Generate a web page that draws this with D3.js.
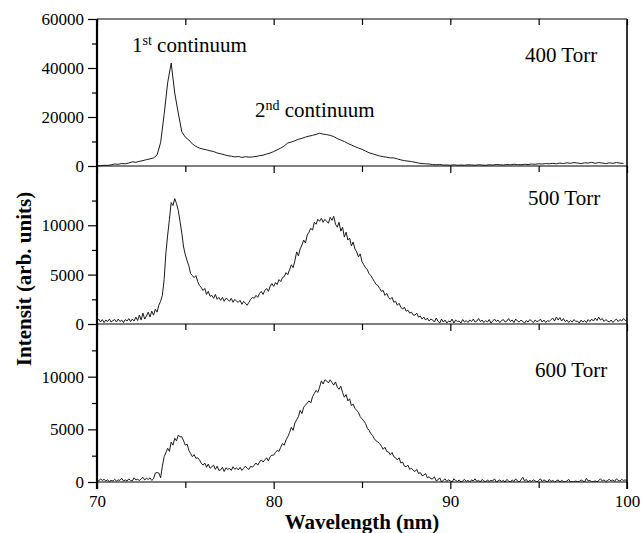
<!DOCTYPE html>
<html lang="en">
<head>
<script type="text/javascript" src="https://d3js.org/d3.v7.min.js"></script>
<style>
    body { margin: 0; background: #fff; }
    svg { font-family: "Liberation Serif", "Times New Roman", serif; }
</style>
</head>
<body>
<div id="container"></div>
<script>
    // spectra (intensity, arb. units)
    // 400 Torr sampled every 0.2 nm, 500 / 600 Torr every 0.1 nm, from 70 to 100 nm
    const torr400 = [
        0, 100, 300, 250, 450,
        800, 700, 1000, 900, 1200,
        1700, 1500, 1900, 2200, 2600,
        2900, 3300, 4500, 9500, 21000,
        34000, 42000, 29800, 21600, 13900,
        11800, 10600, 9000, 8000, 7300,
        6900, 6600, 6200, 5900, 5300,
        5000, 4600, 4200, 4000, 3700,
        3900, 3500, 3800, 3600, 3700,
        3900, 4200, 4400, 4900, 5300,
        5900, 6600, 7300, 8200, 9400,
        9800, 10300, 10900, 11300, 11800,
        12200, 12500, 12900, 13400, 13000,
        12800, 12500, 12000, 11200, 10600,
        10000, 9200, 8600, 7900, 7300,
        6800, 6100, 5400, 5000, 4500,
        4100, 3800, 3600, 3300, 3300,
        2900, 2500, 2200, 2000, 1800,
        1500, 1200, 1000, 900, 800,
        600, 500, 600, 400, 400,
        300, 500, 300, 400, 300,
        500, 400, 300, 500, 400,
        300, 500, 400, 600, 500,
        400, 600, 500, 700, 600,
        500, 700, 600, 800, 700,
        900, 800, 1000, 900, 1100,
        900, 1200, 1000, 1300, 1100,
        1400, 1200, 1000, 1300, 1200,
        1500, 1100, 1400, 1200, 1000,
        1300, 1100, 1400, 1200, 1000
    ];

    const torr500 = [
        300, 500, 200, 450, 150, 400, 250, 500, 200, 350,
        450, 200, 500, 250, 400, 150, 450, 300, 550, 250,
        500, 300, 700, 350, 900, 400, 1100, 500, 800, 1200,
        700, 1300, 900, 1500, 1200, 1900, 2300, 2900, 4500, 7200,
        9000, 10600, 12300, 12000, 12700, 12200, 11500, 10400, 9200, 7800,
        7000, 6400, 5900, 5100, 4900, 4700, 4900, 4300, 3900, 3700,
        3400, 3600, 3000, 3300, 2800, 2900, 2600, 3000, 2500, 2700,
        2400, 2700, 2300, 2600, 2500, 2300, 2600, 2200, 2500, 2300,
        2200, 2400, 2000, 2300, 2100, 1900, 2200, 2500, 2700, 2600,
        2900, 2700, 3100, 3300, 3000, 3400, 3600, 3300, 3800, 4100,
        3800, 4200, 4000, 4500, 4300, 4700, 4800, 5200, 5000, 5500,
        6000, 5700, 6400, 7300, 6900, 7600, 8000, 8500, 8200, 9000,
        9300, 9700, 9500, 10300, 10100, 10600, 10400, 10700, 10300, 10600,
        10400, 10200, 10800, 10500, 10900, 10100, 9800, 10300, 9400, 9800,
        8800, 9300, 8500, 8700, 7900, 8300, 7600, 7300, 6800, 7100,
        6300, 6000, 5700, 5500, 5100, 4900, 4600, 4300, 4000, 3900,
        3600, 3300, 3400, 2900, 3100, 2700, 2500, 2700, 2200, 2300,
        1900, 2100, 1700, 1500, 1700, 1300, 1400, 1100, 1200, 900,
        900, 1100, 700, 800, 500, 700, 400, 600, 300, 500,
        400, 200, 600, 300, 100, 500, 200, 400, 100, 300,
        200, 500, 100, 400, 250, 300, 100, 450, 200, 350,
        150, 400, 250, 500, 200, 300, 550, 250, 400, 150,
        350, 200, 450, 100, 300, 500, 250, 400, 150, 350,
        450, 200, 300, 550, 250, 400, 150, 500, 300, 200,
        400, 250, 100, 350, 200, 450, 300, 150, 400, 250,
        300, 500, 200, 400, 150, 350, 250, 450, 600, 300,
        700, 400, 650, 300, 550, 250, 400, 150, 350, 200,
        450, 250, 300, 100, 400, 200, 350, 150, 450, 250,
        500, 300, 600, 350, 700, 400, 550, 250, 450, 300,
        200, 400, 150, 350, 500, 250, 450, 300, 550, 350,
        400
    ];

    const torr600 = [
        200, 100, 300, 150, 250, 100, 200, 50, 150, 100,
        250, 100, 200, 150, 350, 100, 200, 100, 300, 150,
        100, 400, 200, 250, 150, 300, 450, 200, 350, 250,
        400, 150, 300, 850, 900, 850, 400, 1500, 2400, 2800,
        3200, 2900, 3800, 3500, 4150, 3900, 4450, 4300, 4300, 3900,
        3500, 3600, 3000, 2700, 2400, 2600, 2250, 2300, 2100, 1800,
        1600, 1800, 1400, 1700, 1300, 1450, 1600, 1200, 1500, 1100,
        1150, 1400, 1000, 1350, 1200, 1300, 1100, 1450, 1200, 1350,
        1150, 1400, 1100, 1300, 1500, 1300, 1200, 1500, 1400, 1600,
        1800, 1600, 1900, 2100, 1900, 2100, 2300, 2000, 2400, 2550,
        2550, 2800, 3000, 2900, 3300, 3650, 3500, 4000, 4300, 4700,
        5200, 4900, 5600, 5900, 6200, 6800, 6500, 7100, 7300, 7500,
        7700, 7500, 8100, 8400, 8700, 8500, 9000, 9600, 9300, 9700,
        9600, 9400, 9700, 9450, 9200, 9500, 9000, 8800, 9100, 8500,
        8050, 8300, 7700, 7900, 7250, 7400, 7000, 6800, 6600, 6200,
        6000, 5800, 5550, 5100, 4900, 4600, 4400, 4100, 3900, 3800,
        3650, 3400, 3100, 3300, 2900, 2850, 2600, 2800, 2400, 2300,
        2100, 2300, 1800, 1900, 1500, 1450, 1600, 1200, 1300, 1100,
        1000, 1200, 800, 900, 600, 650, 800, 400, 500, 300,
        300, 500, 100, 200, 400, 0, 150, 300, 50, 200,
        100, 0, 300, 150, 50, 200, 0, 100, 250, 50,
        150, 0, 200, 100, 300, 50, 150, 0, 250, 100,
        0, 200, 50, 150, 100, 300, 0, 100, 200, 50,
        150, 0, 250, 100, 0, 200, 50, 300, 100, 0,
        200, 450, 100, 250, 0, 150, 50, 200, 100, 0,
        150, 300, 50, 200, 100, 0, 250, 50, 150, 0,
        100, 200, 0, 150, 50, 0, 100, 250, 0, 50,
        0, 100, 0, 50, 200, 100, 0, 350, 100, 150,
        0, 50, 100, 0, 150, 300, 100, 200, 50, 150,
        250, 100, 200, 50, 300, 150, 100, 250, 150, 200,
        100
    ];

    const xMajor = [70, 80, 90, 100],
        xMinor = [75, 85, 95];

    const width = 642,
        height = 533,
        left = 97,
        right = 627;

    // one entry per stacked panel
    const panels = [
        {name: "400 Torr", values: torr400, step: 0.2, yMax: 60000,
         major: [0, 20000, 40000, 60000], minor: [10000, 30000, 50000],
         top: 19, bottom: 166, lx: 525, ly: 62},
        {name: "500 Torr", values: torr500, step: 0.1, yMax: 16000,
         major: [0, 5000, 10000], minor: [2500, 7500, 12500],
         top: 166, bottom: 324, lx: 528, ly: 205},
        {name: "600 Torr", values: torr600, step: 0.1, yMax: 15000,
         major: [0, 5000, 10000], minor: [2500, 7500, 12500],
         top: 324, bottom: 482, lx: 535, ly: 377}
    ];

    var x = d3.scaleLinear().domain([70, 100]).range([left, right]);

    var svg = d3.select("#container")
        .append("svg")
        .attr("width", width)
        .attr("height", height);

    svg.append("clipPath").attr("id", "plotclip")
        .append("rect")
        .attr("x", left).attr("y", 19)
        .attr("width", right - left).attr("height", 482 - 19);

    panels.forEach(function(p, k) {
        var y = d3.scaleLinear().domain([0, p.yMax]).range([p.bottom, p.top]);
        var wl = d3.range(70, 100.0001, p.step);

        var line = d3.line()
            .x(function(d, i) { return x(wl[i]); })
            .y(function(d) { return y(d); });

        svg.append("path")
            .datum(p.values)
            .attr("clip-path", "url(#plotclip)")
            .attr("fill", "none")
            .attr("stroke", "#1a1a1a")
            .attr("stroke-width", 1)
            .attr("stroke-linejoin", "round")
            .attr("d", line);

        // y ticks
        svg.append("g")
            .attr("transform", "translate(" + left + ",0)")
            .call(d3.axisLeft(y).tickValues(p.major).tickSize(9).tickPadding(4)
                .tickFormat(d3.format("d")));
        svg.append("g")
            .attr("transform", "translate(" + left + ",0)")
            .call(d3.axisLeft(y).tickValues(p.minor).tickSize(5).tickFormat(""));

        // x ticks under each panel
        svg.append("g")
            .attr("transform", "translate(0," + p.bottom + ")")
            .call(d3.axisBottom(x).tickValues(xMajor).tickSize(7).tickPadding(6)
                .tickFormat(k == 2 ? d3.format("d") : ""));
        svg.append("g")
            .attr("transform", "translate(0," + p.bottom + ")")
            .call(d3.axisBottom(x).tickValues(xMinor).tickSize(6).tickFormat(""));

        svg.append("text")
            .attr("x", p.lx)
            .attr("y", p.ly)
            .attr("font-size", 21)
            .text(p.name);
    });

    // inward ticks along the top frame
    svg.append("g")
        .attr("transform", "translate(0,19)")
        .call(d3.axisTop(x).tickValues(xMajor.concat(xMinor)).tickSizeInner(-6).tickSizeOuter(0)
            .tickFormat(""));

    svg.selectAll(".domain").remove();
    svg.selectAll(".tick line").attr("stroke", "#000").attr("stroke-width", 1.2);
    svg.selectAll(".tick text")
        .attr("font-family", "Liberation Serif, serif")
        .attr("font-size", 17)
        .attr("fill", "#000");

    // frame
    [19, 166, 324, 482].forEach(function(yy) {
        svg.append("line")
            .attr("x1", left).attr("x2", right)
            .attr("y1", yy).attr("y2", yy)
            .attr("stroke", "#000").attr("stroke-width", 1.2);
    });
    svg.append("line")
        .attr("x1", left).attr("x2", left).attr("y1", 19).attr("y2", 489)
        .attr("stroke", "#000").attr("stroke-width", 2.2);
    svg.append("line")
        .attr("x1", right).attr("x2", right).attr("y1", 19).attr("y2", 489)
        .attr("stroke", "#000").attr("stroke-width", 1.6);

    // peak annotations
    var t1 = svg.append("text").attr("x", 132).attr("y", 52).attr("font-size", 21);
    t1.append("tspan").text("1");
    t1.append("tspan").attr("dy", -7).attr("font-size", 14).text("st");
    t1.append("tspan").attr("dy", 7).text(" continuum");

    var t2 = svg.append("text").attr("x", 255).attr("y", 117).attr("font-size", 21);
    t2.append("tspan").text("2");
    t2.append("tspan").attr("dy", -7).attr("font-size", 14).text("nd");
    t2.append("tspan").attr("dy", 7).text(" continuum");

    // axis titles
    svg.append("text")
        .attr("x", (left + right) / 2)
        .attr("y", 529)
        .attr("text-anchor", "middle")
        .attr("font-weight", "bold")
        .attr("font-size", 21)
        .text("Wavelength (nm)");

    svg.append("text")
        .attr("transform", "translate(31,279) rotate(-90)")
        .attr("text-anchor", "middle")
        .attr("font-weight", "bold")
        .attr("font-size", 21)
        .text("Intensit (arb. units)");
</script>
</body>
</html>
